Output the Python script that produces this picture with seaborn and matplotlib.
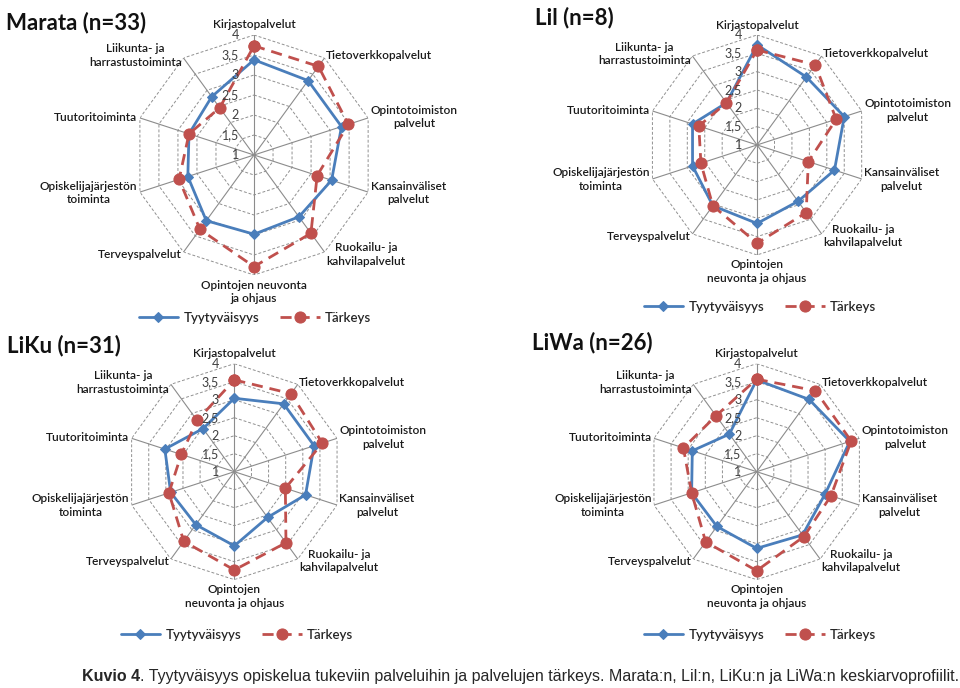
import matplotlib
matplotlib.use("Agg")
import matplotlib.pyplot as plt
import numpy as np
import seaborn as sns

# Axis categories, clockwise from the top
CATEGORIES = [
    "Kirjastopalvelut", "Tietoverkkopalvelut", "Opintotoimiston\npalvelut",
    "Kansainväliset\npalvelut", "Ruokailu- ja\nkahvilapalvelut",
    "Opintojen\nneuvonta ja ohjaus", "Terveyspalvelut",
    "Opiskelijajärjestön\ntoiminta", "Tuutoritoiminta", "Liikunta- ja\nharrastustoiminta",
]
CATEGORIES_MARATA = CATEGORIES[:5] + ["Opintojen neuvonta\nja ohjaus"] + CATEGORIES[6:]

RINGS = [1, 1.5, 2, 2.5, 3, 3.5, 4]
RING_LABELS = ["1", "1,5", "2", "2,5", "3", "3,5", "4"]

marata_tyyt = [3.38, 3.30, 3.30, 3.04, 2.91, 2.98, 3.03, 2.74, 2.71, 2.80]
marata_tark = [3.73, 3.74, 3.48, 2.66, 3.42, 3.79, 3.30, 2.97, 2.71, 2.46]
lil_tyyt = [3.73, 3.29, 3.50, 3.22, 2.90, 3.14, 3.05, 2.85, 2.85, 2.42]
lil_tark = [3.59, 3.70, 3.27, 2.47, 3.28, 3.68, 3.05, 2.61, 2.67, 2.42]
liku_tyyt = [3.04, 3.33, 3.33, 3.08, 2.57, 3.06, 2.82, 2.86, 3.03, 2.48]
liku_tark = [3.55, 3.68, 3.57, 2.49, 3.44, 3.73, 3.39, 2.91, 2.55, 2.76]
liwa_tyyt = [3.55, 3.48, 3.72, 3.00, 3.17, 3.13, 2.88, 2.90, 2.88, 2.29]
liwa_tark = [3.57, 3.78, 3.76, 3.17, 3.23, 3.75, 3.41, 2.90, 3.14, 2.92]

BLUE = "#4a7ebb"
RED = "#c0504d"

sns.set_theme(style="white")
plt.rcParams["font.family"] = ["Lato", "DejaVu Sans"]


def radar(fig, rect, title, title_xy, legend_xy, cats, tyyt, tark):
    ax = fig.add_axes(rect, projection="polar")
    ax.set_theta_zero_location("N")
    ax.set_theta_direction(-1)
    ax.set_ylim(1, 4)
    ax.grid(False)
    ax.spines["polar"].set_visible(False)
    ax.patch.set_alpha(0)

    n = len(cats)
    theta = np.linspace(0, 2 * np.pi, n, endpoint=False)
    closed = np.append(theta, 2 * np.pi)

    # polygon grid
    for r in RINGS[1:]:
        ax.plot(closed, [r] * (n + 1), color="#909090", lw=0.7, ls=(0, (3, 2)), zorder=1)
    for t in theta:
        ax.plot([t, t], [1, 4], color="#8c8c8c", lw=0.8, zorder=1)

    for r, lab in zip(RINGS, RING_LABELS):
        ax.annotate(lab, xy=(0, r), xytext=(-11, 0), textcoords="offset points",
                    ha="right", va="center", fontsize=9, color="#404040", zorder=5)

    for t, lab in zip(theta, cats):
        deg = np.degrees(t) % 360
        if np.isclose(deg, 0):
            ha, va, r = "center", "bottom", 4.12
        elif np.isclose(deg, 180):
            ha, va, r = "center", "top", 4.12
        elif deg < 180:
            ha, va, r = "left", "center", 4.07
        else:
            ha, va, r = "right", "center", 4.07
        ax.text(t, r, lab, ha=ha, va=va, multialignment="center", linespacing=1.3,
                fontsize=8.6, fontweight="semibold", color="#1a1a1a")

    sns.lineplot(x=closed, y=np.append(tyyt, tyyt[0]), ax=ax, sort=False,
                 color=BLUE, lw=2, marker="D", markersize=5,
                 markeredgecolor=BLUE, label="Tyytyväisyys", legend=False, zorder=3)
    sns.lineplot(x=closed, y=np.append(tark, tark[0]), ax=ax, sort=False,
                 color=RED, lw=2, ls=(0, (4, 2.5)), marker="o", markersize=8,
                 markeredgecolor=RED, label="Tärkeys", legend=False, zorder=4)
    ax.set_xlabel("")
    ax.set_ylabel("")
    ax.set_xticks([])
    ax.set_yticks([])

    fig.text(title_xy[0], title_xy[1], title, ha="left", va="center",
             fontsize=16, fontweight="bold", color="#111111")

    handles, labels = ax.get_legend_handles_labels()
    fig.legend(handles, labels, loc="center", bbox_to_anchor=legend_xy, ncol=2,
               frameon=False, prop={"size": 9.5, "weight": "semibold"},
               handlelength=3.0, columnspacing=1.6, handletextpad=0.4)
    return ax


fig = plt.figure(figsize=(9.6, 6.88), dpi=100)
fig.patch.set_facecolor("white")

radar(fig, [0.1396, 0.6003, 0.25, 0.3488], "Marata (n=33)", (0.006, 0.968),
      (0.2656, 0.5378), CATEGORIES_MARATA, marata_tyyt, marata_tark)
radar(fig, [0.674, 0.6294, 0.2292, 0.3198], "Lil (n=8)", (0.557, 0.975),
      (0.7917, 0.5538), CATEGORIES, lil_tyyt, lil_tark)
radar(fig, [0.1316, 0.1574, 0.225, 0.314], "LiKu (n=31)", (0.0073, 0.4985),
      (0.2469, 0.077), CATEGORIES, liku_tyyt, liku_tark)
radar(fig, [0.6757, 0.1574, 0.225, 0.314], "LiWa (n=26)", (0.554, 0.5015),
      (0.7917, 0.077), CATEGORIES, liwa_tyyt, liwa_tark)

cap = fig.text(0.0854, 0.0174, "Kuvio 4", ha="left", va="center", fontsize=11.5,
               fontweight="bold", family=["Liberation Sans", "DejaVu Sans"])
plt.annotate(". Tyytyväisyys opiskelua tukeviin palveluihin ja palvelujen tärkeys. "
             "Marata:n, Lil:n, LiKu:n ja LiWa:n keskiarvoprofiilit.",
             xy=(1, 0), xycoords=cap, ha="left", va="bottom", fontsize=11.5,
             family=["Liberation Sans", "DejaVu Sans"], annotation_clip=False)

fig.savefig("out.png", dpi=100)
